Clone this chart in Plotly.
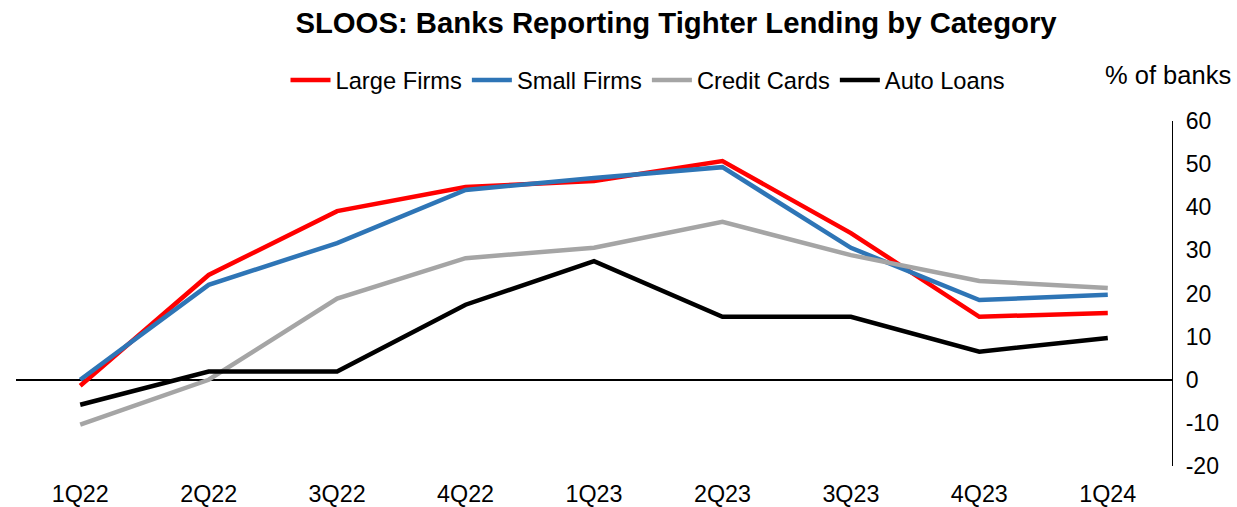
import plotly.graph_objects as go

categories = ["1Q22", "2Q22", "3Q22", "4Q22", "1Q23", "2Q23", "3Q23", "4Q23", "1Q24"]
large_firms = [-1.4, 24.3, 39.1, 44.7, 46.1, 50.7, 34.0, 14.6, 15.5]
small_firms = [0.0, 22.0, 31.7, 44.0, 46.8, 49.3, 30.6, 18.5, 19.7]
credit_cards = [-10.4, 0.0, 18.8, 28.2, 30.6, 36.6, 28.9, 22.9, 21.3]
auto_loans = [-5.8, 1.9, 1.9, 17.4, 27.5, 14.6, 14.6, 6.5, 9.7]
y_ticks = [-20, -10, 0, 10, 20, 30, 40, 50, 60]
y_tick_text = ["-20", "-10", "0", "10", "20", "30", "40", "50", "60"]

series = [
    ("Large Firms", large_firms, "#FF0000"),
    ("Small Firms", small_firms, "#2E75B6"),
    ("Credit Cards", credit_cards, "#A5A5A5"),
    ("Auto Loans", auto_loans, "#000000"),
]

FONT = "Liberation Sans, Arial, sans-serif"

fig = go.Figure()
for name, vals, color in series:
    fig.add_trace(go.Scatter(
        x=categories, y=vals, name=name, mode="lines",
        line=dict(color=color, width=4.5),
    ))

fig.update_layout(
    width=1237, height=507,
    margin=dict(l=16, r=65, t=121, b=41),
    paper_bgcolor="white", plot_bgcolor="white",
    font=dict(family=FONT, size=22, color="black"),
    title=dict(
        text="<b>SLOOS: Banks Reporting Tighter Lending by Category</b>",
        x=676 / 1237, xanchor="center", y=1 - 23 / 507, yanchor="middle",
        font=dict(family=FONT, size=29.3, color="black"),
    ),
    showlegend=True,
    legend=dict(
        orientation="h", x=648 / 1237, xref="container", xanchor="center",
        y=1 - 80 / 507, yref="container", yanchor="middle",
        font=dict(family=FONT, size=23.7), bgcolor="rgba(0,0,0,0)",
        itemwidth=40, tracegroupgap=0,
    ),
    xaxis=dict(
        type="category", range=[-0.5, 8.5], automargin=False,
        showgrid=False, zeroline=False, showline=False,
        ticks="", tickfont=dict(family=FONT, size=23.3),
        ticklabelstandoff=12,
    ),
    yaxis=dict(
        side="right", range=[-20, 60], tickvals=y_ticks, ticktext=y_tick_text,
        automargin=False,
        showgrid=False, zeroline=True, zerolinecolor="black", zerolinewidth=1.5,
        showline=True, linecolor="black", linewidth=1.2,
        ticks="", tickfont=dict(family=FONT, size=23),
        ticklabelstandoff=8,
    ),
    annotations=[dict(
        text="% of banks", xref="paper", yref="paper",
        x=1.0, y=(466 - 75) / 345, xanchor="center", yanchor="middle",
        xshift=-4, showarrow=False, font=dict(family=FONT, size=25.5),
    )],
)

fig.write_html("out.html")
